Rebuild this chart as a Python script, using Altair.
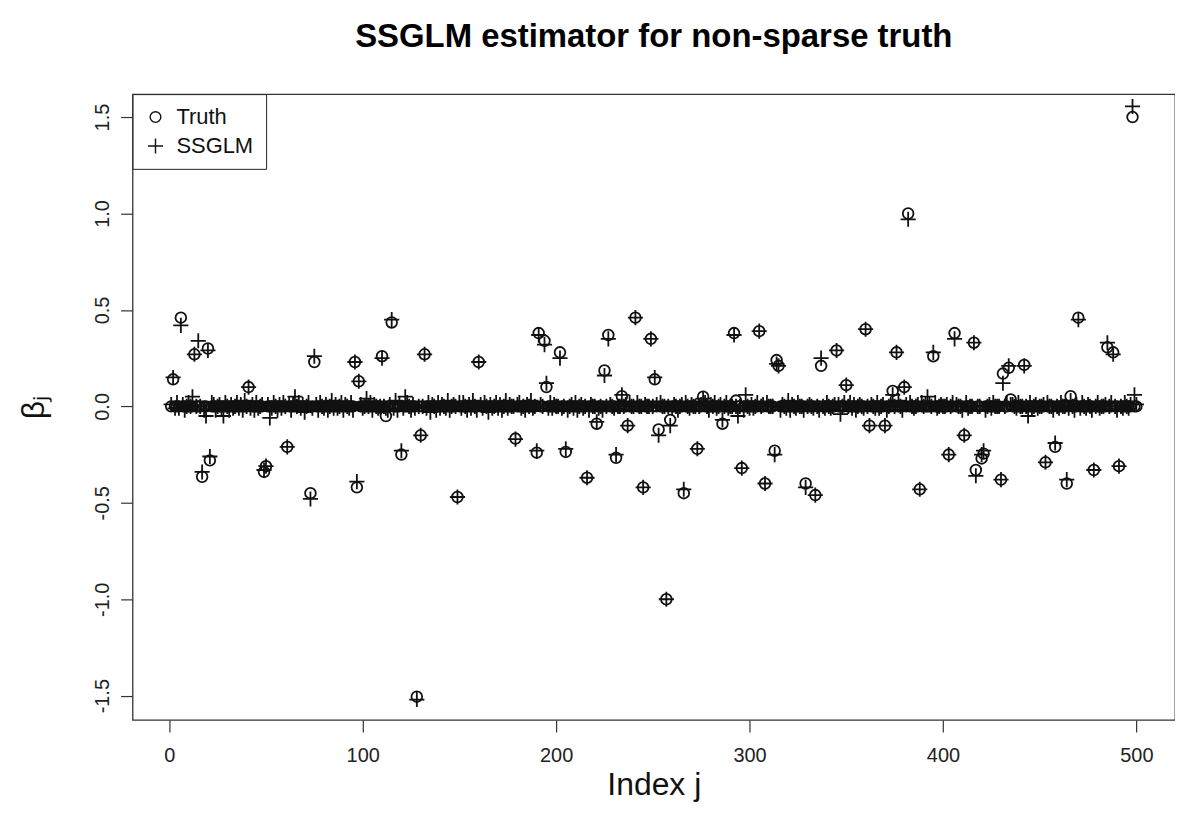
import altair as alt
import pandas as pd

n_coef = 500
chart_title = "SSGLM estimator for non-sparse truth"
x_title = "Index j"
y_title = "\u03b2\u2c7c"
series_names = ["Truth", "SSGLM"]
x_ticks = [0, 100, 200, 300, 400, 500]
y_ticks = [-1.5, -1.0, -0.5, 0.0, 0.5, 1.0, 1.5]

signal_index = [2, 6, 13, 15, 17, 20, 21, 41, 49, 50, 61, 73, 75, 96, 97, 98, 110, 112, 115, 120,
                128, 130, 132, 149, 160, 179, 190, 191, 194, 195, 202, 205, 216, 221, 225, 227, 231, 234, 237, 241,
                245, 249, 251, 253, 257, 259, 266, 273, 276, 286, 292, 293, 296, 305, 308, 313, 314, 315, 329, 334,
                337, 345, 350, 360, 362, 370, 374, 376, 380, 382, 388, 395, 403, 406, 411, 416, 417, 420, 421, 430,
                431, 434, 435, 442, 453, 458, 464, 466, 470, 478, 485, 488, 491, 498]
signal_truth = [0.14, 0.46, 0.27, 0.0, -0.365, 0.30, -0.28, 0.10, -0.34, -0.31, -0.21, -0.45, 0.23, 0.23, -0.42, 0.13, 0.26, -0.05, 0.435, -0.25,
                -1.505, -0.15, 0.27, -0.47, 0.23, -0.167, -0.24, 0.38, 0.34, 0.10, 0.28, -0.236, -0.37, -0.09, 0.186, 0.37, -0.267, 0.053, -0.10, 0.46,
                -0.42, 0.35, 0.14, -0.12, -1.0, -0.07, -0.45, -0.22, 0.05, -0.09, 0.38, 0.03, -0.32, 0.39, -0.40, -0.23, 0.24, 0.21, -0.40, -0.46,
                0.21, 0.29, 0.11, 0.40, -0.10, -0.10, 0.08, 0.28, 0.10, 1.0, -0.43, 0.26, -0.25, 0.38, -0.15, 0.33, -0.33, -0.27, -0.245, -0.38,
                0.17, 0.20, 0.036, 0.215, -0.29, -0.21, -0.40, 0.053, 0.46, -0.33, 0.306, 0.28, -0.31, 1.50]
signal_ssglm = [0.15, 0.42, 0.27, 0.34, -0.34, 0.29, -0.26, 0.10, -0.33, -0.31, -0.21, -0.48, 0.26, 0.23, -0.39, 0.13, 0.25, -0.01, 0.45, -0.23,
                -1.52, -0.15, 0.27, -0.47, 0.23, -0.17, -0.23, 0.37, 0.32, 0.12, 0.25, -0.22, -0.37, -0.08, 0.16, 0.35, -0.25, 0.06, -0.10, 0.46,
                -0.42, 0.35, 0.15, -0.15, -1.0, -0.10, -0.43, -0.22, 0.04, -0.07, 0.37, 0.0, -0.32, 0.39, -0.40, -0.25, 0.22, 0.21, -0.42, -0.46,
                0.25, 0.29, 0.11, 0.40, -0.10, -0.10, 0.06, 0.28, 0.10, 0.97, -0.43, 0.28, -0.25, 0.35, -0.15, 0.33, -0.36, -0.25, -0.23, -0.38,
                0.12, 0.21, 0.01, 0.21, -0.29, -0.19, -0.38, 0.03, 0.45, -0.33, 0.33, 0.27, -0.31, 1.555]

# SSGLM estimates of the null coefficients, in hundredths
ssglm_null_hundredths = [
    1, 0, -1, 2, -1, 0, 1, -2, 0, 2, 0, 5, -1, 0, 2, 0, 0, -2, -5, 0, 0, 2, 1, -2, 0, 1, -1, -5, 2, 0, -2, 1, -1, 0, 2, -1, 1, -2, 3, 0, 0, -1, 1, -2, 2, -1, 0, 1, 0, 0,
    1, -6, -1, 2, 0, -2, 1, -1, 2, 0, 0, 1, -2, 1, 5, 0, 2, -1, 1, -3, 0, 2, 0, -1, 0, 1, -2, 2, 0, -1, 1, -2, 0, 3, -1, 1, -1, 0, 2, -2, 1, 0, -1, 2, -2, 0, 0, 0, 1, -1,
    0, 4, 0, 2, -2, 1, 0, -1, 0, 1, 0, 2, -2, 1, 0, -1, 3, -2, 1, 0, -1, 5, 2, 0, -2, 1, -1, 0, 0, 0, 0, 1, -1, 2, -3, 1, 0, -2, 2, -1, 1, 0, -1, 3, -2, 0, 1, 0, -1, 2,
    -1, 2, 0, -2, 1, -1, 3, 0, -2, 0, 1, -1, 2, 0, -3, 1, -1, 0, 2, -1, 1, -2, 0, 3, -1, 1, 0, 0, -2, 1, 2, -1, 0, -2, 1, 0, 3, -1, 0, 0, -2, 1, 0, 0, 0, -1, 2, -1, 1, 0,
    0, 2, -1, 0, 1, -2, 0, 1, -1, 2, -2, 0, 1, -1, 0, 3, -2, 1, 0, 0, 1, -1, 0, -2, 2, 0, 0, 1, 0, -1, 2, 0, 0, -2, 0, 1, -1, 2, 0, 0, -1, 2, 0, 0, -2, 1, 0, 0, 1, 0,
    0, 1, -1, 2, 0, 0, -2, 0, 3, -1, 1, 0, -2, 0, 1, -1, 2, 0, -1, 1, 0, 0, -2, 0, 1, -1, 2, 0, -2, 1, 0, 2, -1, 0, 1, -2, 0, 2, -1, 0, 0, -1, 1, -5, 0, 1, -2, 6, 0, -1,
    1, -1, 0, 2, -2, 0, 1, -1, 2, 0, 0, 0, 0, -1, 2, -2, 1, 0, -1, 3, -2, 1, 0, -1, 2, 0, 0, -2, 1, 0, 1, 0, -1, 2, 0, -2, 1, 0, -1, 2, 0, -1, 0, 1, -2, 1, -4, 0, 2, -1,
    0, 2, -1, 1, -2, 0, 1, 0, -1, 2, 0, -2, 1, 0, -1, 2, -1, 0, 1, 0, -2, 0, 1, 0, 0, -1, 3, 0, -2, 0, 1, -1, 2, 0, -1, 0, 1, -2, 2, 0, 1, 5, 1, 0, -2, 2, -1, 0, 1, 0,
    0, 1, -2, 0, 2, -1, 1, 0, 0, -2, 1, 2, -1, 0, 0, 0, 1, 0, 0, -1, 2, -2, 0, 1, -1, 2, 0, 0, 0, -1, 1, 0, 2, 0, -2, 1, 0, -1, 2, 0, 0, 1, 0, -5, 2, -1, 0, 1, -1, 0,
    0, 1, -1, 2, 0, 0, -2, 1, 0, -1, 2, 0, 0, 0, -1, 2, 0, -2, 1, 0, -1, 2, 0, -1, 1, 0, -2, 1, 0, 2, -1, 0, 0, 1, 0, 0, 2, -1, 0, -2, 1, 0, -1, 2, 0, -1, 1, 0, 6, 1,
]
assert len(ssglm_null_hundredths) == n_coef
assert len(signal_index) == len(signal_truth) == len(signal_ssglm)

truth = [0.0] * n_coef
ssglm = [v / 100 for v in ssglm_null_hundredths]
for j, t, e in zip(signal_index, signal_truth, signal_ssglm):
    truth[j - 1] = t
    ssglm[j - 1] = e

idx = list(range(1, n_coef + 1))
df = pd.DataFrame({
    "j": idx + idx,
    "beta": truth + ssglm,
    "series": [series_names[0]] * n_coef + [series_names[1]] * n_coef,
})

plus_path = "M-1,0H1M0,-1V1"
FONT = "Liberation Sans"

legend = alt.Legend(
    orient="none", legendX=0, legendY=0, direction="vertical",
    strokeColor="#222", fillColor="white", padding=12, cornerRadius=0,
    labelFont=FONT, labelFontSize=22, labelColor="#111", labelOffset=10,
    rowPadding=7, symbolStrokeColor="#111", symbolStrokeWidth=1.4,
    symbolFillColor="transparent",
)

chart = alt.Chart(df).mark_point(filled=False, strokeWidth=1.8, opacity=1).encode(
    x=alt.X("j:Q",
            scale=alt.Scale(domain=[-18.96, 519.96], nice=False, zero=False),
            axis=alt.Axis(values=x_ticks, title=x_title, labelPadding=14, titlePadding=4,
                          labelFlush=False, format="d")),
    y=alt.Y("beta:Q",
            scale=alt.Scale(domain=[-1.626, 1.619], nice=False, zero=False),
            axis=alt.Axis(values=y_ticks, title=y_title, labelAngle=-90, labelAlign="center",
                          labelBaseline="bottom", labelPadding=8, titlePadding=42, labelFlush=False,
                          labelExpr="replace(format(datum.value, '.1f'), '\u2212', '-')")),
    shape=alt.Shape("series:N", title=None,
                    scale=alt.Scale(domain=series_names, range=["circle", plus_path]),
                    legend=legend),
    size=alt.Size("series:N", title=None,
                  scale=alt.Scale(domain=series_names, range=[115, 230]),
                  legend=legend),
    color=alt.value("#111"),
).properties(
    width=1046, height=628,
    autosize=alt.AutoSizeParams(type="none"),
    padding={"left": 125, "top": 85, "right": 0, "bottom": 110},
    title=alt.TitleParams(text=chart_title, font=FONT, fontSize=33, fontWeight="bold",
                          anchor="middle", frame="group", offset=14, baseline="alphabetic",
                          color="black"),
).configure_view(
    stroke="#333", strokeWidth=1.3
).configure_axis(
    grid=False, domain=False, labelFont=FONT, titleFont=FONT, labelFontSize=20,
    titleFontSize=32, titleFontWeight="normal", tickColor="#333", tickSize=12,
    tickWidth=1.2, labelColor="#222", titleColor="#111"
)

chart.save("out.html", embed_options={"renderer": "svg", "actions": False})
